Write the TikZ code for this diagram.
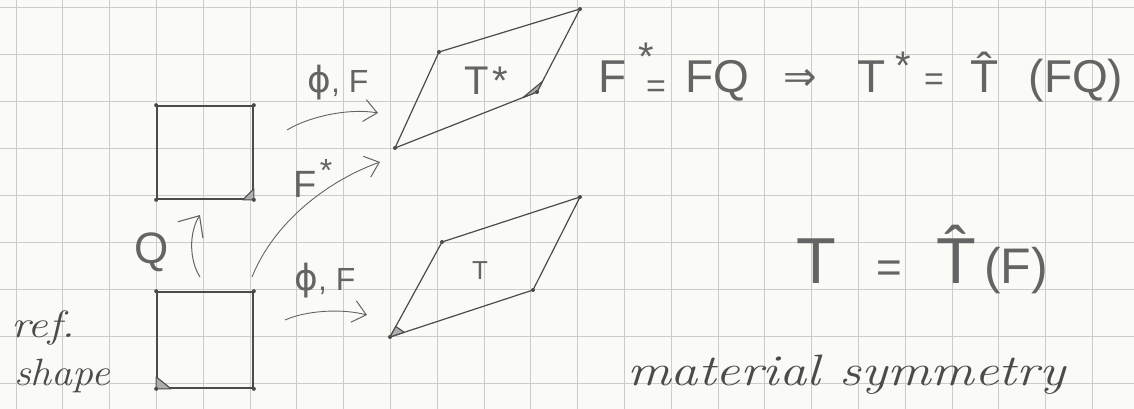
\documentclass[tikz,border=0pt]{standalone}
\usepackage{fontspec}
\usepackage{graphicx}
\usetikzlibrary{arrows.meta,calc}
\newfontfamily\hand{Liberation Sans}
\newfontfamily\symf{DejaVu Sans}
\newcommand\fsz[1]{\fontsize{#1}{#1}\selectfont}
\definecolor{paper}{RGB}{250,250,247}
\definecolor{gridc}{RGB}{204,204,204}
\definecolor{pencil}{RGB}{75,75,75}
\definecolor{pencillight}{RGB}{100,100,100}
\tikzset{
  sheet/.style={draw=pencil, line width=1.7pt, rectangle, inner sep=0pt},
  rhomb/.style={draw=pencil, line width=1.2pt, line join=round},
  marker/.style={draw=pencil, line width=1.1pt, fill=pencil!45, line join=round},
  vdot/.style={fill=pencil},
  mapar/.style={draw=pencillight, line width=0.9pt, -{Straight Barb[length=13pt,width=22pt,line width=1pt]}},
  qar/.style={draw=pencillight, line width=1pt, -{Straight Barb[length=17pt,width=30pt,line width=1.1pt]}},
  hw/.style={text=pencillight, inner sep=0pt, font=\hand},
  cur/.style={text=pencil, inner sep=0pt, font=\rmfamily\itshape},
}
\begin{document}
\begin{tikzpicture}[x=1pt,y=-1pt]
\useasboundingbox (0,0) rectangle (1134,409);
\fill[paper] (0,0) rectangle (1134,409);
% graph paper
\foreach \i in {0,...,23} \draw[gridc, line width=0.9pt] ({16+46.8*\i},0) -- ({16+46.8*\i},409);
\foreach \j in {0,...,8} \draw[gridc, line width=0.9pt] (0,{7+47.1*\j}) -- (1134,{7+47.1*\j});

% reference squares
\node[sheet, minimum width=96pt, minimum height=93pt] (sqtop) at (205,152.5) {};
\node[sheet, minimum width=96pt, minimum height=96pt] (sqbot) at (205,340) {};
\draw[marker] (sqtop.south east) -- ++(-11,0) -- ++(11,-11) -- cycle;
\draw[marker] (sqbot.south west) -- ++(15,0) -- ++(-15,-12) -- cycle;
\foreach \c in {north west,north east,south west,south east}{
  \fill[vdot] (sqtop.\c) circle (2pt);
  \fill[vdot] (sqbot.\c) circle (2pt);
}

% deformed shapes
\coordinate (pA) at (395,148); \coordinate (pB) at (439,52);
\coordinate (pC) at (580,9);   \coordinate (pD) at (537,92);
\coordinate (qA) at (390,337); \coordinate (qB) at (442,242);
\coordinate (qC) at (580,197); \coordinate (qD) at (533,290);
\draw[rhomb] (pA) -- (pB) -- (pC) -- (pD) -- cycle;
\draw[rhomb] (qA) -- (qB) -- (qC) -- (qD) -- cycle;
\draw[marker] (pD) -- ($(pD)!15pt!(pA)$) -- ($(pD)!12pt!(pC)$) -- cycle;
\draw[marker] (qA) -- ($(qA)!15pt!(qD)$) -- ($(qA)!12pt!(qB)$) -- cycle;
\foreach \p in {pA,pB,pC,pD,qA,qB,qC,qD} \fill[vdot] (\p) circle (2pt);

\node[hw, anchor=base] (tstar) at (486,95) {\fsz{40}T\hspace{4pt}*};
\node[hw, anchor=base] (tlab) at (480,279) {\fsz{26}T};

% arrows
\coordinate (a1s) at (287,130); \coordinate (a1e) at (378,113);
\coordinate (a2s) at (285,320); \coordinate (a2e) at (367,315);
\coordinate (a3s) at (252,277); \coordinate (a3e) at (380,162);
\coordinate (a4s) at (200,277); \coordinate (a4e) at (200,215);
\draw[mapar] (a1s) .. controls (310,116) and (350,108) .. (a1e);
\draw[mapar] (a2s) .. controls (305,311) and (340,308) .. (a2e);
\draw[mapar] (a3s) .. controls (275,220) and (330,180) .. (a3e);
\draw[qar] (a4s) .. controls (189,260) and (189,232) .. (a4e);

\node[hw, anchor=base] (lab1) at (338,93) {{\symf\fsz{36}ϕ}{\fsz{32}, F}};
\node[hw, anchor=base] (lab2) at (325,290) {{\symf\fsz{36}ϕ}{\fsz{32}, F}};
\node[hw, anchor=base] (lab3) at (305,197) {\fsz{38}F};
\node[hw] (lab3s) at (326,170) {\fsz{32}*};
\node[hw] (labq) at (152,252) {\fsz{44}Q};

\node[cur, anchor=base west] (ref) at (11,337) {\scalebox{1.2}[1]{\fsz{38}ref.}};
\node[cur, anchor=base west] (shape) at (14,385) {\scalebox{1.1}[1]{\fsz{38}shape}};

% relations
\node[hw, anchor=base] (e1) at (613,93) {\fsz{46}F};
\node[hw, anchor=base] (e2) at (646,71) {\fsz{40}*};
\node[hw] (e3) at (656,89) {\fsz{34}=};
\node[hw, anchor=base west] (e4) at (685,93) {\fsz{46}FQ};
\node[hw] (e5) at (800,80) {\symf\fsz{40}⇒};
\node[hw, anchor=base] (e6) at (872,93) {\fsz{46}T};
\node[hw, anchor=base] (e7) at (903,80) {\fsz{40}*};
\node[hw] (e8) at (934,82) {\fsz{34}=};
\node[hw, anchor=base] (e9) at (985,93) {\fsz{46}\^{T}};
\node[hw, anchor=base] (e10) at (1076,93) {\fsz{46}(FQ)};

\node[hw, anchor=base] (g1) at (816,283) {\fsz{65}T};
\node[hw] (g2) at (889,272) {\fsz{44}=};
\node[hw, anchor=base] (g3) at (956,283) {\fsz{65}\^{T}};
\node[hw, anchor=base] (g4) at (1016,283) {\fsz{50}(F)};

\node[cur, anchor=base west] (ms) at (627,385) {\scalebox{1.24}[1]{\fsz{44}material symmetry}};
\end{tikzpicture}
\end{document}
